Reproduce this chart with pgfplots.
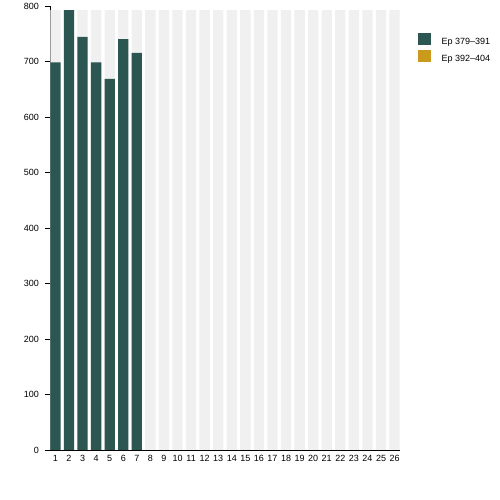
\documentclass[border=0pt]{standalone}
\usepackage{pgfplots}
\pgfplotsset{compat=1.18}
\usepackage{fontspec}
\setmainfont{Liberation Sans}
\definecolor{dgreen}{HTML}{2B5652}
\definecolor{gold}{HTML}{C99A1C}
\definecolor{bggray}{HTML}{F0F0F0}
\begin{document}
\begin{tikzpicture}[x=1pt,y=1pt]
\path[use as bounding box] (0,0) rectangle (500,500);
\begin{axis}[
  at={(50pt,50pt)}, anchor=south west,
  scale only axis, width=350pt, height=443.7pt,
  xmin=0.6, xmax=26.4, ymin=0, ymax=800,
  axis x line*=bottom, axis y line*=left,
  axis line style={black, line width=0.8pt},
  xtick={1,...,26}, ytick={0,100,...,800},
  tick align=outside, major tick length=5pt,
  xtick style={draw=none},
  ytick style={black, line width=0.8pt},
  /pgf/number format/assume math mode=true,
  tick label style={font=\fontsize{9}{10}\selectfont},
  yticklabel style={inner sep=0pt, xshift=-6pt},
  xticklabel style={inner sep=0pt, yshift=0pt},
  legend style={at={(1.0514,0.9414)}, anchor=north west, draw=none, fill=none,
    inner sep=0pt, row sep=4.3pt, column sep=10.7pt,
    font=\fontsize{9}{10}\selectfont, nodes={inner sep=0pt}},
  legend cell align=left,
  legend image code/.code={\fill[#1] (0pt,-3pt) rectangle (12.7pt,9.2pt);},
]
\addplot[ybar, bar width=0.76, bar shift=0pt, fill=bggray, draw=none, forget plot] coordinates {
(1,793) (2,793) (3,793) (4,793) (5,793) (6,793) (7,793) (8,793) (9,793) (10,793)
(11,793) (12,793) (13,793) (14,793) (15,793) (16,793) (17,793) (18,793) (19,793) (20,793)
(21,793) (22,793) (23,793) (24,793) (25,793) (26,793)};
\addplot[ybar, bar width=0.76, bar shift=0pt, fill=dgreen, draw=none, forget plot] coordinates {
(1,699) (2,793) (3,745) (4,699) (5,669) (6,741) (7,716)};
\addlegendimage{fill=dgreen, draw=none}
\addlegendentry{Ep 379–391}
\addlegendimage{fill=gold, draw=none}
\addlegendentry{Ep 392–404}
\end{axis}
\end{tikzpicture}
\end{document}
